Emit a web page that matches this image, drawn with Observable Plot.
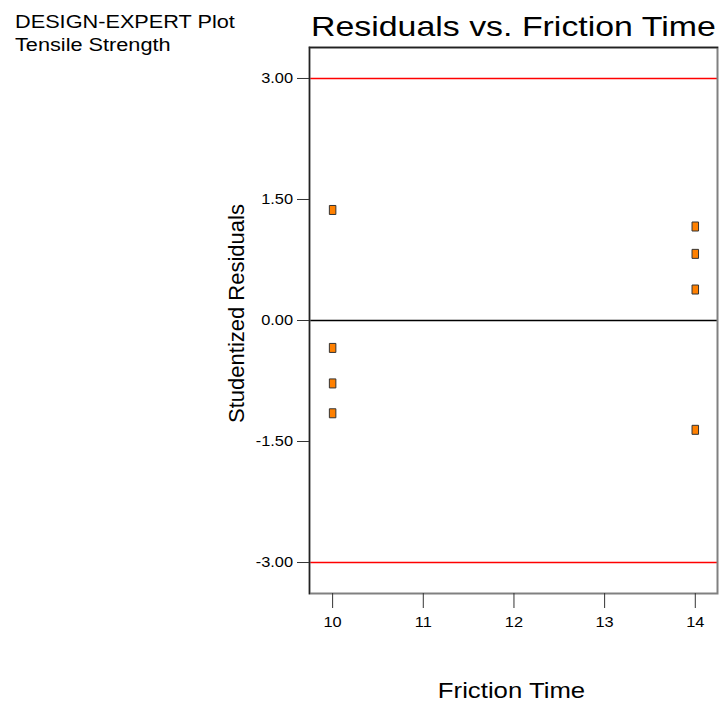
<!DOCTYPE html>
<html><head><meta charset="utf-8">
<script src="https://cdn.jsdelivr.net/npm/d3@7"></script>
<script src="https://cdn.jsdelivr.net/npm/@observablehq/plot@0.6"></script>
<style>
body{margin:0;background:#fff;font-family:"Liberation Sans",Arial,sans-serif;}
#wrap{position:relative;width:719px;height:709px;}
.t{position:absolute;color:#000;white-space:nowrap;transform-origin:0 0;}
</style></head><body>
<div id="wrap">
<div id="chart" style="position:absolute;left:0;top:0;"></div>
<div class="t" style="left:15px;top:10.5px;font-size:17.5px;line-height:23.4px;transform:scaleX(1.24);">DESIGN-EXPERT Plot<br>Tensile Strength</div>
<div class="t" style="left:311px;top:13.3px;font-size:28px;line-height:28px;transform:scaleX(1.21);">Residuals vs. Friction Time</div>
</div>
<script>
const frictionTime = [10, 10, 10, 10, 14, 14, 14, 14];
const residuals = [1.37, -0.34, -0.78, -1.15, 1.165, 0.826, 0.384, -1.355];
const limits = [3, -3];
const yTicks = [3, 1.5, 0, -1.5, -3];
const xTicks = [10, 11, 12, 13, 14];
const xLabel = "Friction Time";
const yLabel = "Studentized Residuals";

const data = frictionTime.map((x, i) => ({x, y: residuals[i]}));

const rectSymbol = {
  draw(ctx, size) {
    const w = 6.5, h = 9;
    ctx.moveTo(-w/2, -h/2);
    ctx.lineTo(w/2, -h/2);
    ctx.lineTo(w/2, h/2);
    ctx.lineTo(-w/2, h/2);
    ctx.closePath();
  }
};

const chart = Plot.plot({
  width: 719,
  height: 709,
  marginLeft: 309,
  marginRight: 2,
  marginTop: 47,
  marginBottom: 116,
  style: {fontFamily: "Liberation Sans, Arial, sans-serif", fontSize: "14px", color: "#000", background: "transparent"},
  x: {domain: [9.745, 14.245]},
  y: {domain: [-3.384, 3.384]},
  marks: [
    Plot.ruleY(limits, {stroke: "#ff0000", strokeWidth: 1.6}),
    Plot.ruleY([0], {stroke: "#000", strokeWidth: 1.5}),
    Plot.frame({stroke: "#808080", strokeWidth: 2}),
    Plot.frame({anchor: "left", stroke: "#222", strokeWidth: 1.3}),
    Plot.frame({anchor: "top", stroke: "#222", strokeWidth: 1.3}),
    Plot.axisX({ticks: xTicks, tickSize: 15, tickPadding: 9, tickFormat: d => d.toString(), fontSize: 14,
      stroke: "#333", label: null}),
    Plot.axisY({ticks: yTicks, tickSize: 12, tickPadding: 4.5, tickFormat: d => d.toFixed(2), fontSize: 14,
      stroke: "#333", label: null}),
    Plot.text([xLabel], {text: d => d, frameAnchor: "bottom", dy: 104, dx: -2, fontSize: 22, fill: "#000"}),
    Plot.text([yLabel], {text: d => d, frameAnchor: "left", textAnchor: "middle", rotate: -90, dx: -73, dy: -7, fontSize: 22, fill: "#000"}),
    Plot.dot(data, {x: "x", y: "y", symbol: rectSymbol, fill: "#ff8000", stroke: "#333", strokeWidth: 1, r: 4})
  ]
});
document.getElementById("chart").appendChild(chart);
// horizontal stretch of non-rotated text (the reference's glyphs are wide)
chart.querySelectorAll("text").forEach(t => {
  const tr = t.getAttribute("transform") || "";
  if (tr.includes("rotate")) return;
  t.setAttribute("transform", `${tr} scale(1.17,1)`);
});
</script>
</body></html>
